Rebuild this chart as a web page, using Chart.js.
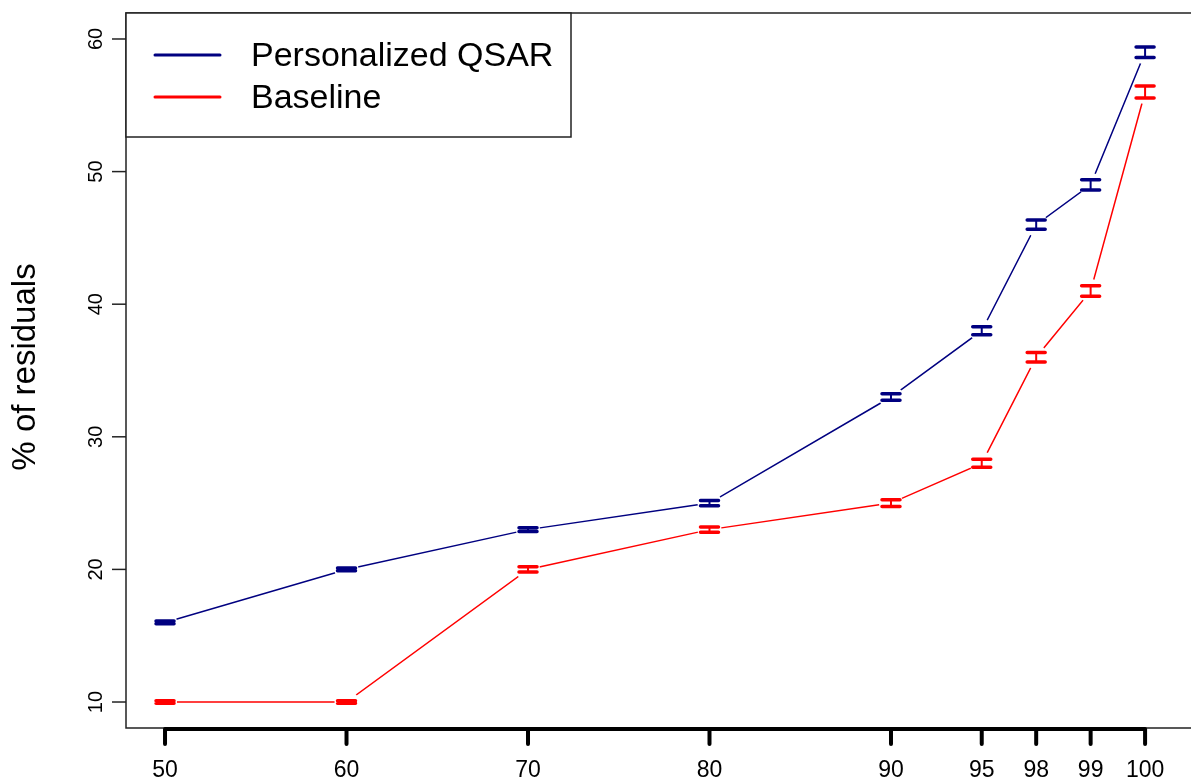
<!DOCTYPE html>
<html>
<head>
<meta charset="utf-8">
<script src="https://cdn.jsdelivr.net/npm/chart.js@4"></script>
<style>
  html, body { margin: 0; padding: 0; background: #fff; overflow: hidden; }
  #wrap { width: 1191px; height: 781px; }
</style>
</head>
<body>
<div id="wrap"><canvas id="residChart"></canvas></div>
<script>
// percentile categories and where they sit along the x axis
const categories = ['50', '60', '70', '80', '90', '95', '98', '99', '100'];
const xPos = [0, 1, 2, 3, 4, 4.5, 4.8, 5.1, 5.4];

const qsarValues = [16, 20, 23, 25, 33, 38, 46, 49, 59];
const qsarErr = [0.1, 0.1, 0.15, 0.2, 0.25, 0.3, 0.35, 0.38, 0.4];
const baseValues = [10, 10, 20, 23, 25, 28, 36, 41, 56];
const baseErr = [0.1, 0.1, 0.2, 0.2, 0.25, 0.3, 0.35, 0.4, 0.45];

const yTicks = [10, 20, 30, 40, 50, 60];

const NAVY = '#000080';
const RED = '#ff0000';
const FONT = '"Liberation Sans", Arial, sans-serif';

const toPoints = vals => vals.map((v, i) => ({ x: xPos[i], y: v }));

// axes, box, error bars and legend drawn R-style
const rStyle = {
    id: 'rStyle',
    afterDatasetsDraw(chart) {
        const ctx = chart.ctx;
        const xs = chart.scales.x, ys = chart.scales.y;
        const errs = [qsarErr, baseErr];

        // error bars
        chart.data.datasets.forEach((ds, di) => {
            ctx.save();
            ctx.strokeStyle = ds.borderColor;
            ctx.lineCap = 'round';
            ds.data.forEach((p, i) => {
                const px = xs.getPixelForValue(p.x);
                const hi = ys.getPixelForValue(p.y + errs[di][i]);
                const lo = ys.getPixelForValue(p.y - errs[di][i]);
                ctx.lineWidth = 2;
                ctx.beginPath();
                ctx.moveTo(px, hi); ctx.lineTo(px, lo);
                ctx.stroke();
                ctx.lineWidth = 3.5;
                ctx.beginPath();
                ctx.moveTo(px - 9, hi); ctx.lineTo(px + 9, hi);
                ctx.moveTo(px - 9, lo); ctx.lineTo(px + 9, lo);
                ctx.stroke();
            });
            ctx.restore();
        });
    },
    afterDraw(chart) {
        const ctx = chart.ctx;
        const a = chart.chartArea;
        const xs = chart.scales.x, ys = chart.scales.y;
        ctx.save();

        // box (right side is off the canvas)
        ctx.strokeStyle = '#222';
        ctx.lineWidth = 1.5;
        ctx.beginPath();
        ctx.moveTo(chart.width, a.top);
        ctx.lineTo(a.left, a.top);
        ctx.lineTo(a.left, a.bottom);
        ctx.lineTo(chart.width, a.bottom);
        ctx.stroke();

        // x axis: thick line + ticks
        const x0 = xs.getPixelForValue(xPos[0]);
        const x1 = xs.getPixelForValue(xPos[xPos.length - 1]);
        ctx.strokeStyle = '#000';
        ctx.lineWidth = 4;
        ctx.beginPath();
        ctx.moveTo(x0, a.bottom + 1); ctx.lineTo(x1, a.bottom + 1);
        ctx.stroke();
        ctx.lineCap = 'round';
        ctx.fillStyle = '#000';
        ctx.font = '23px ' + FONT;
        ctx.textAlign = 'center';
        ctx.textBaseline = 'middle';
        xPos.forEach((v, i) => {
            const px = xs.getPixelForValue(v);
            ctx.beginPath();
            ctx.moveTo(px, a.bottom + 1); ctx.lineTo(px, a.bottom + 16);
            ctx.stroke();
            ctx.fillText(categories[i], px, a.bottom + 43);
        });

        // y axis ticks and rotated labels
        ctx.lineCap = 'butt';
        ctx.strokeStyle = '#222';
        ctx.lineWidth = 1.5;
        ctx.font = '20px ' + FONT;
        yTicks.forEach(t => {
            const py = ys.getPixelForValue(t);
            ctx.beginPath();
            ctx.moveTo(a.left, py); ctx.lineTo(a.left - 14, py);
            ctx.stroke();
            ctx.save();
            ctx.translate(a.left - 30, py);
            ctx.rotate(-Math.PI / 2);
            ctx.fillText(String(t), 0, 0);
            ctx.restore();
        });

        // y title
        ctx.save();
        ctx.font = '33px ' + FONT;
        ctx.translate(26, 367);
        ctx.rotate(-Math.PI / 2);
        ctx.fillText('% of residuals', 0, 0);
        ctx.restore();

        // legend box
        ctx.fillStyle = '#fff';
        ctx.fillRect(a.left, a.top, 445, 124);
        ctx.strokeStyle = '#222';
        ctx.lineWidth = 1.5;
        ctx.strokeRect(a.left, a.top, 445, 124);
        ctx.font = '34px ' + FONT;
        ctx.textAlign = 'left';
        chart.data.datasets.forEach((ds, i) => {
            const ly = a.top + 42 + i * 42;
            ctx.strokeStyle = ds.borderColor;
            ctx.lineWidth = 3;
            ctx.lineCap = 'round';
            ctx.beginPath();
            ctx.moveTo(a.left + 29, ly); ctx.lineTo(a.left + 94, ly);
            ctx.stroke();
            ctx.fillStyle = '#000';
            ctx.fillText(ds.label, a.left + 125, ly + 2);
        });
        ctx.restore();
    }
};

new Chart(document.getElementById('residChart'), {
    type: 'line',
    data: {
        datasets: [{
            label: 'Personalized QSAR',
            data: toPoints(qsarValues),
            borderColor: NAVY,
            borderWidth: 1.5,
            pointRadius: 12,
            pointBorderWidth: 0,
            pointBackgroundColor: '#fff',
            pointHoverRadius: 12
        }, {
            label: 'Baseline',
            data: toPoints(baseValues),
            borderColor: RED,
            borderWidth: 1.5,
            pointRadius: 12,
            pointBorderWidth: 0,
            pointBackgroundColor: '#fff',
            pointHoverRadius: 12
        }]
    },
    options: {
        responsive: true,
        maintainAspectRatio: false,
        animation: false,
        layout: { autoPadding: false, padding: { left: 126, top: 13, right: 0, bottom: 53 } },
        plugins: { legend: { display: false }, tooltip: { enabled: false } },
        scales: {
            x: { type: 'linear', display: false, min: -0.215, max: 5.653 },
            y: { type: 'linear', display: false, min: 8.04, max: 61.96 }
        }
    },
    plugins: [rStyle]
});
</script>
</body>
</html>
